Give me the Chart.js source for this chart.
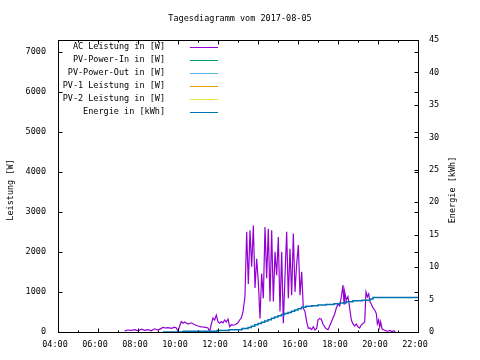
<!DOCTYPE html>
<html><head><meta charset="utf-8">
<script src="https://cdn.jsdelivr.net/npm/chart.js@4/dist/chart.umd.min.js"></script>
<style>html,body{margin:0;padding:0;background:#fff}#wrap{width:480px;height:360px}</style>
</head><body><div id="wrap"><canvas id="c" width="480" height="360"></canvas></div>
<script>
const chartTitle = 'Tagesdiagramm vom 2017-08-05';
const yTitle = 'Leistung [W]';
const y2Title = 'Energie [kWh]';
const seriesNames = ['AC Leistung in [W]', 'PV-Power-In in [W]', 'PV-Power-Out in [W]', 'PV-1 Leistung in [W]', 'PV-2 Leistung in [W]', 'Energie in [kWh]'];
const seriesColors = ['#9400d3', '#009e73', '#56b4e9', '#e69f00', '#f0e442', '#0072b2'];
const xTickHours = [4, 6, 8, 10, 12, 14, 16, 18, 20, 22];
const xMinorHours = [5, 7, 9, 11, 13, 15, 17, 19, 21];
const yTickValues = [0, 1000, 2000, 3000, 4000, 5000, 6000, 7000];
const y2TickValues = [0, 5, 10, 15, 20, 25, 30, 35, 40, 45];

const acTimes = ['07:20','07:30','07:40','07:50','08:00','08:10','08:20','08:30','08:40','08:50','09:00','09:10','09:15','09:20','09:30','09:40','09:50','09:55','10:00','10:05','10:10','10:15','10:20','10:30','10:40','10:50','11:00','11:10','11:20','11:30','11:35','11:40','11:45','11:50','11:55','12:00','12:05','12:10','12:15','12:20','12:25','12:30','12:35','12:40','12:45','12:50','12:55','13:00','13:05','13:10','13:15','13:21',
'13:26','13:31','13:36','13:41','13:46','13:51','13:56','14:01','14:06','14:11','14:16','14:21','14:26','14:31','14:36','14:41','14:46','14:51','14:56','15:01','15:06','15:11','15:16','15:21','15:26','15:31','15:36','15:41','15:46','15:51','15:56','16:01','16:06','16:11','16:16','16:21','16:26','16:31',
'16:36','16:41','16:46','16:51','16:56','17:00','17:05','17:10','17:15','17:20','17:25','17:30','17:35','17:40','17:45','17:50','17:55','18:00','18:05','18:10','18:15','18:18','18:20','18:25','18:30','18:35','18:40','18:45','18:50','18:55','19:00','19:05','19:10','19:15','19:20','19:24','19:28','19:32','19:36','19:40','19:45','19:50','19:55','19:58','20:02','20:05','20:08','20:12','20:18','20:24','20:30','20:36','20:42','20:48','20:51'];
const acValues = [30,50,40,60,30,70,40,60,30,80,50,90,120,100,110,90,120,100,20,150,260,220,250,200,230,180,150,130,120,100,20,200,350,300,420,250,220,260,230,300,250,320,130,180,170,180,200,230,300,350,500,900,
2500,1200,2540,1630,2660,1100,1830,1250,340,1460,840,2620,1340,2580,760,2540,760,2000,1420,2370,510,2000,220,1400,2500,840,2080,920,2460,1000,1700,2170,920,1500,590,510,260,90,
100,60,130,50,90,300,340,320,200,130,80,60,150,250,350,450,600,700,650,880,1170,700,1000,800,880,600,300,200,150,200,130,100,180,210,250,1000,880,950,750,700,600,550,460,200,300,120,250,80,50,30,20,40,10,30,0];

const energyTimes = ['09:15','10:15','11:57','12:33','13:12','13:30','13:40','13:50','14:00','14:10','14:20','14:30','14:40','14:50','15:00','15:10','15:20','15:30','15:40','15:50','16:00','16:10','16:24','16:42','17:00','17:24','17:48','18:06','18:24','18:45','19:12','19:36','19:45','22:00'];
const energyValues = [0,0.1,0.25,0.35,0.55,0.7,0.9,1.1,1.3,1.5,1.7,1.9,2.1,2.3,2.5,2.7,2.85,3.0,3.2,3.4,3.6,3.8,3.95,4.05,4.15,4.25,4.35,4.45,4.65,4.8,4.9,5.1,5.3,5.3];

const FONT = "'DejaVu Sans Mono', monospace";
const FS = 8.5;
function toHours(s){ const p = s.split(':'); return (+p[0]) + (+p[1]) / 60; }
function pts(times, vals){ return times.map((t, i) => ({x: toHours(t), y: vals[i]})); }
function fmtHour(v){ return String(v).padStart(2, '0') + ':00'; }

const gnuFrame = {
  id: 'gnuFrame',
  afterDraw(chart){
    const {ctx, chartArea: a, scales} = chart;
    ctx.save();
    ctx.strokeStyle = '#000'; ctx.lineWidth = 1;
    const L = Math.round(a.left) + 0.5, R = Math.round(a.right) + 0.5, T = Math.round(a.top) + 0.5, B = Math.round(a.bottom) + 0.5;
    ctx.strokeRect(L, T, R - L, B - T);
    ctx.beginPath();
    const xt = (h, len) => { const x = Math.round(scales.x.getPixelForValue(h)) + 0.5; ctx.moveTo(x, B); ctx.lineTo(x, B - len); ctx.moveTo(x, T); ctx.lineTo(x, T + len); };
    xTickHours.forEach(h => xt(h, 4));
    xMinorHours.forEach(h => xt(h, 2));
    scales.y.ticks.forEach(t => { const y = Math.round(scales.y.getPixelForValue(t.value)) + 0.5; ctx.moveTo(L, y); ctx.lineTo(L + 4, y); ctx.moveTo(R, y); ctx.lineTo(R - 4, y); });
    scales.y2.ticks.forEach(t => { const y = Math.round(scales.y2.getPixelForValue(t.value)) + 0.5; ctx.moveTo(R, y); ctx.lineTo(R - 4, y); });
    ctx.stroke();

    ctx.fillStyle = '#000';
    ctx.font = FS + 'px ' + FONT;
    ctx.textBaseline = 'middle';
    ctx.textAlign = 'center';
    ctx.save(); ctx.translate(11, 190); ctx.rotate(-Math.PI / 2); ctx.fillText(yTitle, 0, 0); ctx.restore();
    ctx.save(); ctx.translate(453, 190); ctx.rotate(-Math.PI / 2); ctx.fillText(y2Title, 0, 0); ctx.restore();

    ctx.textAlign = 'right';
    seriesNames.forEach((n, i) => {
      const y = 47 + 13 * i;
      ctx.fillStyle = '#000';
      ctx.fillText(n, 165, y);
      ctx.strokeStyle = seriesColors[i];
      ctx.beginPath(); ctx.moveTo(190, Math.round(y) + 0.5); ctx.lineTo(218, Math.round(y) + 0.5); ctx.stroke();
    });
    ctx.restore();
  }
};

const datasets = seriesNames.map((n, i) => ({
  label: n,
  data: [],
  borderColor: seriesColors[i],
  borderWidth: 1.2,
  pointRadius: 0,
  tension: 0,
  yAxisID: 'y',
  order: 1
}));
datasets[0].data = pts(acTimes, acValues);
datasets[5].data = pts(energyTimes, energyValues);
datasets[5].yAxisID = 'y2';
datasets[5].stepped = 'before';
datasets[5].order = 0;
datasets[5].borderWidth = 1.5;

const tickFont = {family: FONT, size: FS};
new Chart(document.getElementById('c'), {
  type: 'line',
  data: {datasets},
  options: {
    responsive: false,
    animation: false,
    events: [],
    layout: {padding: 0, autoPadding: false},
    plugins: {
      legend: {display: false},
      tooltip: {enabled: false},
      title: {display: true, text: chartTitle, color: '#000', font: {family: FONT, size: FS, weight: 'normal', lineHeight: 1.2}, padding: {top: 14, bottom: 15.8}}
    },
    scales: {
      x: {
        type: 'linear', min: 4, max: 22,
        grid: {display: false, drawTicks: false},
        border: {display: false},
        ticks: {padding: 8, labelOffset: -3, color: '#000', font: tickFont, maxRotation: 0, autoSkip: false, callback: v => fmtHour(v)},
        afterBuildTicks: s => { s.ticks = xTickHours.map(v => ({value: v})); },
        afterFit: s => { s.height = 28; }
      },
      y: {
        position: 'left', min: 0, max: 7290,
        grid: {display: false, drawTicks: false},
        border: {display: false},
        ticks: {padding: 12, color: '#000', font: tickFont, autoSkip: false, callback: v => String(v)},
        afterBuildTicks: s => { s.ticks = yTickValues.map(v => ({value: v})); },
        afterFit: s => { s.width = 58; }
      },
      y2: {
        position: 'right', min: 0, max: 45,
        grid: {display: false, drawTicks: false},
        border: {display: false},
        ticks: {padding: 11, color: '#000', font: tickFont, autoSkip: false, callback: v => String(v)},
        afterBuildTicks: s => { s.ticks = y2TickValues.map(v => ({value: v})); },
        afterFit: s => { s.width = 62; }
      }
    }
  },
  plugins: [gnuFrame]
});
</script>
</body></html>
